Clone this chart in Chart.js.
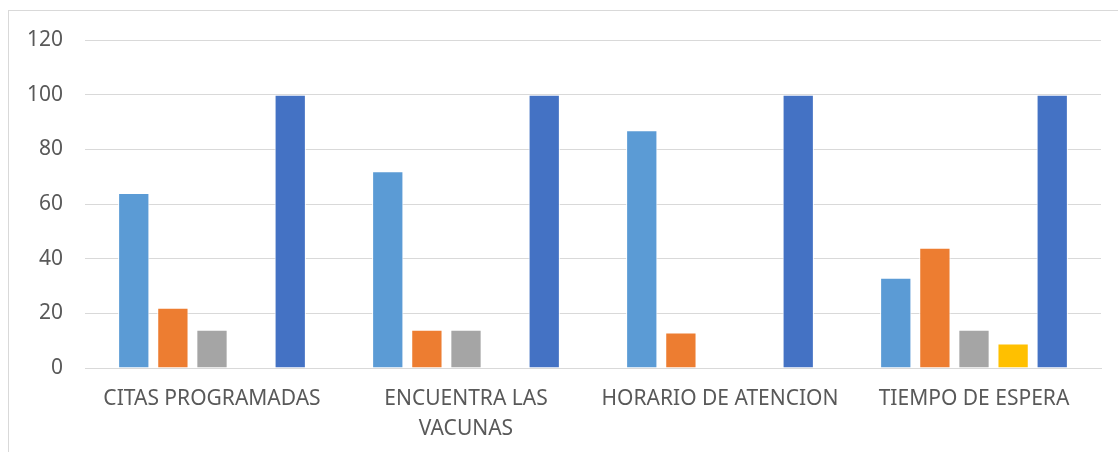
<!DOCTYPE html>
<html>
<head>
<meta charset="utf-8">
<script src="https://cdn.jsdelivr.net/npm/chart.js@4"></script>
<style>
  html, body { margin: 0; padding: 0; background: #fff; }
  #wrap { position: relative; width: 1118px; height: 452px; overflow: hidden; }
  #frame {
    position: absolute; left: 8px; top: 10px; width: 1200px; height: 500px;
    border-top: 1px solid #d9d9d9; border-left: 1px solid #d9d9d9;
  }
  canvas { position: absolute; left: 0; top: 0; }
</style>
</head>
<body>
<div id="wrap">
  <div id="frame"></div>
  <canvas id="encuesta" width="1118" height="452"></canvas>
</div>
<script>
const categorias = ['CITAS PROGRAMADAS', ['ENCUENTRA LAS', 'VACUNAS'], 'HORARIO DE ATENCION', 'TIEMPO DE ESPERA'];
const serie1 = [64, 72, 87, 33];
const serie2 = [22, 14, 13, 44];
const serie3 = [14, 14, 0, 14];
const serie4 = [0, 0, 0, 9];
const serie5 = [100, 100, 100, 100];
const ticksY = [0, 20, 40, 60, 80, 100, 120];

const colores = ['#5B9BD5', '#ED7D31', '#A5A5A5', '#FFC000', '#4472C4'];
const series = [serie1, serie2, serie3, serie4, serie5];

const fuente = { family: "'Noto Sans', sans-serif", size: 21, lineHeight: 1.43 };

new Chart(document.getElementById('encuesta'), {
  type: 'bar',
  data: {
    labels: categorias,
    datasets: series.map((s, i) => ({
      label: 'Serie ' + (i + 1),
      data: s,
      backgroundColor: colores[i],
      borderColor: '#ffffff',
      borderWidth: 1,
      categoryPercentage: 0.77,
      barPercentage: 0.8
    }))
  },
  options: {
    responsive: false,
    animation: false,
    layout: { padding: { top: 40, right: 17, bottom: 0, left: 0 } },
    plugins: { legend: { display: false }, tooltip: { enabled: false } },
    scales: {
      x: {
        grid: { display: false, drawTicks: false },
        border: { color: '#d9d9d9' },
        ticks: { color: '#595959', font: fuente, padding: 16, maxRotation: 0, autoSkip: false },
        afterFit: (s) => { s.height = 84; }
      },
      y: {
        min: 0,
        max: 120,
        afterBuildTicks: (s) => { s.ticks = ticksY.map(v => ({ value: v })); },
        grid: { color: '#d9d9d9', drawTicks: false },
        border: { display: false },
        ticks: { color: '#595959', font: fuente, padding: 22 },
        afterFit: (s) => { s.width = 85; }
      }
    }
  }
});
</script>
</body>
</html>
